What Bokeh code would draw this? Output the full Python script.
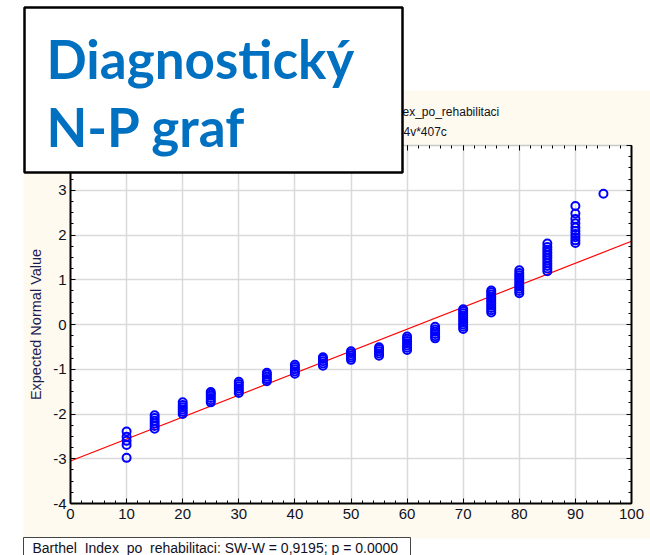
from bokeh.plotting import figure
from bokeh.models import (FixedTicker, LinearAxis, CustomJSTickFormatter, Range1d)
from bokeh.core.properties import value
from bokeh.embed import file_html
from bokeh.resources import INLINE

# ---------------- data ----------------
score_levels = [10, 15, 20, 25, 30, 35, 40, 45, 50, 55, 60, 65, 70, 75, 80, 85, 90, 95]
expected_10 = [-2.98, -2.69, -2.60, -2.51, -2.39]
expected_15 = [-2.33, -2.27, -2.21, -2.15, -2.09, -2.03]
expected_20 = [-2.00, -1.95, -1.90, -1.85, -1.80, -1.74]
expected_25 = [-1.74, -1.69, -1.64, -1.59, -1.55, -1.51]
expected_30 = [-1.53, -1.48, -1.43, -1.38, -1.33, -1.28]
expected_35 = [-1.27, -1.22, -1.17, -1.12, -1.08]
expected_40 = [-1.10, -1.05, -1.00, -0.95, -0.90]
expected_45 = [-0.92, -0.87, -0.82, -0.77, -0.73]
expected_50 = [-0.79, -0.74, -0.69, -0.64, -0.60]
expected_55 = [-0.70, -0.65, -0.60, -0.55, -0.51]
expected_60 = [-0.57, -0.52, -0.47, -0.42, -0.37, -0.32, -0.27]
expected_65 = [-0.31, -0.26, -0.21, -0.16, -0.11, -0.05]
expected_70 = [-0.10, -0.05, 0.00, 0.05, 0.10, 0.15, 0.20, 0.25, 0.30, 0.34]
expected_75 = [0.27, 0.32, 0.37, 0.42, 0.47, 0.52, 0.57, 0.62, 0.67, 0.72, 0.76]
expected_80 = [0.70, 0.75, 0.80, 0.85, 0.90, 0.95, 1.00, 1.05, 1.10, 1.15, 1.21]
expected_85 = [1.19, 1.25, 1.31, 1.37, 1.43, 1.49, 1.55, 1.61, 1.67, 1.73, 1.81]
expected_90 = [1.82, 1.88, 1.95, 2.02, 2.09, 2.17, 2.26, 2.36, 2.48, 2.65]
expected_95 = [2.92]
expected_values = [expected_10, expected_15, expected_20, expected_25, expected_30,
                   expected_35, expected_40, expected_45, expected_50, expected_55,
                   expected_60, expected_65, expected_70, expected_75, expected_80,
                   expected_85, expected_90, expected_95]

fit_x = [0, 100]
fit_y = [-3.05, 1.86]

x_ticks = [0, 10, 20, 30, 40, 50, 60, 70, 80, 90, 100]
x_minor = [v * 2 for v in range(51)]
y_ticks = [-4, -3, -2, -1, 0, 1, 2, 3, 4]
y_minor = [-4 + 0.25 * i for i in range(33)]
y_tick_labels = {-4: "-4", -3: "-3", -2: "-2", -1: "-1", 0: "0", 1: "1", 2: "2", 3: "3", 4: ""}

title_line1 = "ex_po_rehabilitaci"
title_line2 = "4v*407c"
y_label = "Expected Normal Value"
slide_title_1 = "Diagnostický"
slide_title_2 = "N-P graf"
stat_text = "Barthel_Index_po_rehabilitaci:  SW-W = 0,9195; p = 0.0000"

# ---------------- layout ----------------
W, H = 650, 555
FL, FR, FT, FB = 70, 631, 145, 503   # plot frame in page px
CREAM = "#FEFAF0"
TXT = "#111122"
FONT = "Liberation Sans"

xs, ys = [], []
for lev, vals in zip(score_levels, expected_values):
    xs.extend([lev] * len(vals))
    ys.extend(vals)

# ---------- the chart ----------
p = figure(width=W, height=H, output_backend="svg", toolbar_location=None,
           x_range=Range1d(0, 100), y_range=Range1d(-4, 4),
           min_border_left=FL, min_border_right=W - FR,
           min_border_top=FT, min_border_bottom=H - FB,
           background_fill_color="white", border_fill_color=CREAM)
p.outline_line_color = None

for ax in (p.xaxis[0], p.yaxis[0]):
    ax.major_tick_in = 5
    ax.major_tick_out = 0
    ax.minor_tick_in = 3
    ax.minor_tick_out = 0
    ax.axis_line_width = 2
    ax.axis_line_color = "black"
    ax.major_tick_line_color = "black"
    ax.minor_tick_line_color = "black"
    ax.major_label_text_font = FONT
    ax.major_label_text_font_size = "15px"
    ax.major_label_text_color = TXT

p.xaxis[0].major_label_standoff = 5
p.yaxis[0].major_label_standoff = 4
p.xaxis[0].ticker = FixedTicker(ticks=x_ticks, minor_ticks=x_minor)
p.yaxis[0].ticker = FixedTicker(ticks=y_ticks, minor_ticks=y_minor)
p.yaxis[0].major_label_overrides = y_tick_labels
p.yaxis[0].axis_label = y_label
p.yaxis[0].axis_label_text_font = FONT
p.yaxis[0].axis_label_text_font_size = "14.5px"
p.yaxis[0].axis_label_text_font_style = "normal"
p.yaxis[0].axis_label_text_color = "#1c1c50"
p.yaxis[0].axis_label_standoff = 6

blank = CustomJSTickFormatter(code="return ''")
top_ax = LinearAxis(ticker=FixedTicker(ticks=x_ticks, minor_ticks=x_minor), formatter=blank,
                    major_tick_in=5, major_tick_out=0, minor_tick_in=3, minor_tick_out=0,
                    axis_line_color="#c8c8c8", axis_line_width=1.5)
right_ax = LinearAxis(ticker=FixedTicker(ticks=y_ticks, minor_ticks=y_minor), formatter=blank,
                      major_tick_in=5, major_tick_out=0, minor_tick_in=3, minor_tick_out=0,
                      axis_line_color="black", axis_line_width=2)
p.add_layout(top_ax, "above")
p.add_layout(right_ax, "right")

p.xgrid.ticker = FixedTicker(ticks=x_ticks)
p.ygrid.ticker = FixedTicker(ticks=y_ticks)
p.grid.grid_line_color = "#dadada"
p.grid.grid_line_width = 1.5

p.line(fit_x, fit_y, line_color="#ff0000", line_width=1.2)
p.scatter(xs, ys, marker="circle", size=8, fill_color=None,
          line_color="#0000ff", line_width=2)

# ---------- overlay sheet (page pixels, y downwards), stacked on top ----------
o = figure(width=W, height=H, output_backend="svg", toolbar_location=None,
           x_range=Range1d(0, W), y_range=Range1d(H, 0),
           x_axis_type=None, y_axis_type=None,
           min_border=0, min_border_left=0, min_border_right=0,
           min_border_top=0, min_border_bottom=0,
           styles={"position": "absolute", "left": "0px", "top": "0px"})
o.outline_line_color = None
o.background_fill_alpha = 0
o.border_fill_alpha = 0

# white surroundings of the cream panel
o.quad(left=[0, 0, 0], right=[W, 23, W], top=[0, 0, 538], bottom=[90, H, H],
       fill_color="white", line_color=None)

# fragments of the chart title visible right of the slide box
o.text(x=[402], y=[111], text=[title_line1], text_font=value(FONT),
       text_font_size=value("12px"), text_color=TXT, text_baseline="alphabetic")
o.text(x=[403], y=[131], text=[title_line2], text_font=value(FONT),
       text_font_size=value("12px"), text_color=TXT, text_baseline="alphabetic")

# statistics box
o.quad(left=[23], right=[410], top=[537], bottom=[H + 5], fill_color="white",
       line_color="#444444", line_width=1)
o.text(x=[32], y=[547], text=[stat_text], text_font=value(FONT),
       text_font_size=value("14px"), text_color=TXT, text_baseline="alphabetic")

# slide title box
o.quad(left=[24], right=[402], top=[7], bottom=[172], fill_color="white",
       line_color="black", line_width=2.5)
o.text(x=[46], y=[58], text=[slide_title_1], text_font=value("Lato"),
       text_font_style="bold", text_font_size=value("53px"),
       text_color="#0070c0", text_baseline="alphabetic")
o.text(x=[46], y=[126], text=[slide_title_2], text_font=value("Lato"),
       text_font_style="bold", text_font_size=value("53px"),
       text_color="#0070c0", text_baseline="alphabetic")

open("out.html", "w").write(file_html([p, o], INLINE))
